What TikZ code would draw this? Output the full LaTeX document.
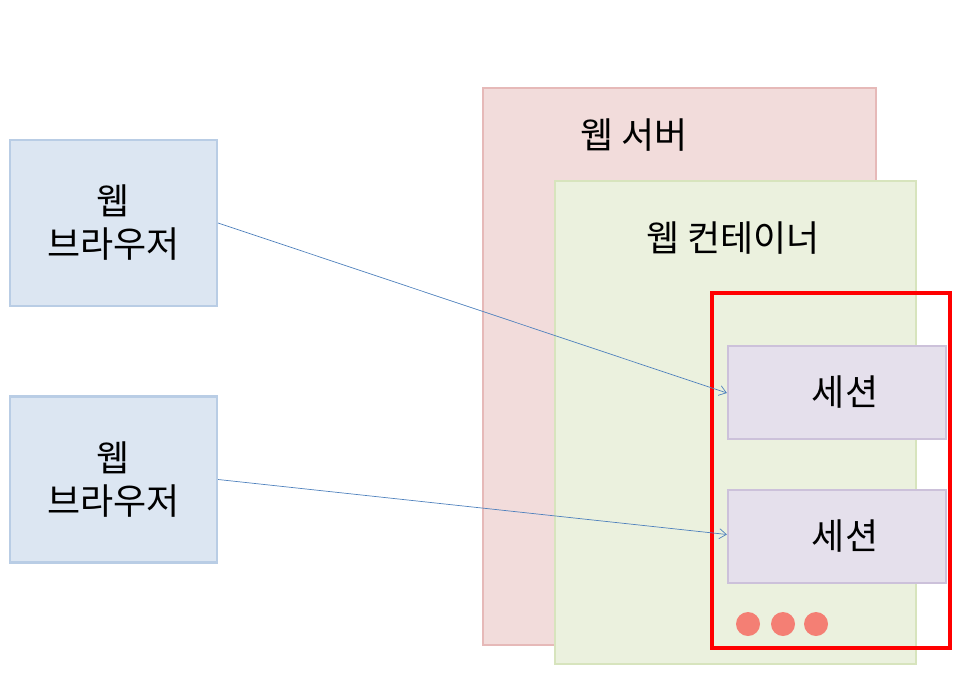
\documentclass[tikz,border=0pt]{standalone}
\usepackage{fontspec}
\setmainfont{Noto Sans CJK KR}
\usetikzlibrary{arrows.meta}
\definecolor{bfill}{HTML}{DCE6F2}
\definecolor{bdraw}{HTML}{B9CDE5}
\definecolor{sfill}{HTML}{F2DCDB}
\definecolor{sdraw}{HTML}{E6B9B8}
\definecolor{cfill}{HTML}{EBF1DE}
\definecolor{cdraw}{HTML}{D7E4BD}
\definecolor{efill}{HTML}{E5E0EC}
\definecolor{edraw}{HTML}{CCC1DA}
\definecolor{arr}{HTML}{4F81BD}
\definecolor{dotc}{HTML}{F47F74}
\tikzset{
  box/.style={draw, line width=2.2pt, minimum width=207pt, minimum height=166pt, inner sep=0pt, font=\fontsize{36}{43}\selectfont, align=center},
  sess/.style={draw=edraw, fill=efill, line width=2.2pt, minimum width=218pt, minimum height=93pt, inner sep=0pt, font=\fontsize{36}{43}\selectfont},
  conn/.style={draw=arr, line width=0.7pt, -{Straight Barb[length=7pt,width=10pt]}},
  lbl/.style={font=\fontsize{36}{43}\selectfont, inner sep=0pt},
  dot/.style={circle, fill=dotc, minimum size=24pt, inner sep=0pt},
}
\begin{document}
\begin{tikzpicture}[x=1pt,y=-1pt]
\useasboundingbox (0,0) rectangle (960,696);
\node[box, draw=bdraw, fill=bfill] (b1) at (113.5,223) {웹\\브라우저};
\node[box, draw=bdraw, fill=bfill] (b2) at (113.5,479.5) {웹\\브라우저};
\node[draw=sdraw, fill=sfill, line width=2.2pt, minimum width=393pt, minimum height=557pt, inner sep=0pt] (srv) at (679.5,366.5) {};
\node[lbl] (srvl) at (634,135) {웹 서버};
\node[draw=cdraw, fill=cfill, line width=2.2pt, minimum width=361pt, minimum height=483pt, inner sep=0pt] (cnt) at (735.5,422.5) {};
\node[lbl] (cntl) at (733,238) {웹 컨테이너};
\node[draw=red, line width=3.2pt, minimum width=238pt, minimum height=355pt, inner sep=0pt] (red) at (831,470.5) {};
\node[sess] (s1) at (837,392.5) {\hspace*{16pt}세션};
\node[sess] (s2) at (837,536.5) {\hspace*{16pt}세션};
\node[dot] (d1) at (748,624) {};
\node[dot] (d2) at (783,624) {};
\node[dot] (d3) at (816,624) {};
\draw[conn] (b1.east) -- ([yshift=-0.5pt]s1.west);
\draw[conn] (b2.east) -- ([yshift=2pt]s2.west);
\end{tikzpicture}
\end{document}
